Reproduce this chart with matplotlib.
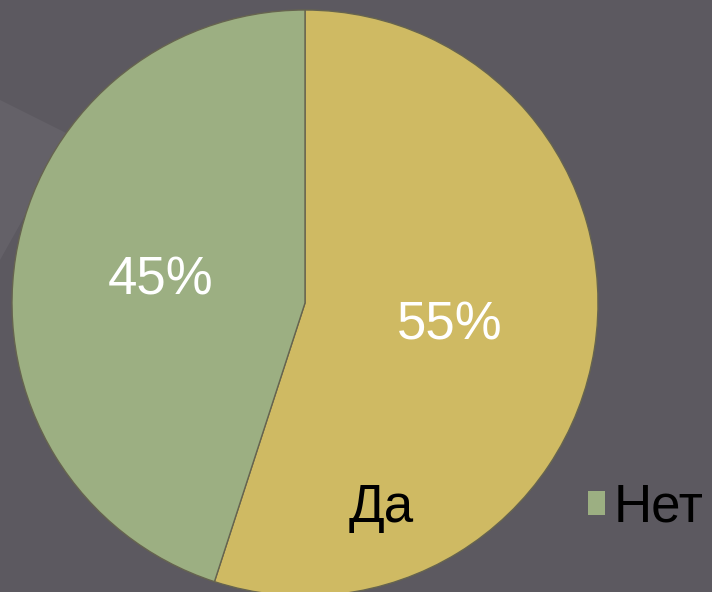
import matplotlib.pyplot as plt
from matplotlib.patches import Polygon

labels = ['Да', 'Нет']
values = [55, 45]
colors = ['#cfba63', '#9caf82']

plt.rcParams['font.family'] = ['Liberation Sans', 'DejaVu Sans']

fig = plt.figure(figsize=(7.12, 5.92), dpi=100)
fig.patch.set_facecolor('#5c5960')

# faint light streak in the upper left of the background
bg = fig.add_axes([0, 0, 1, 1], zorder=0)
bg.set_xlim(0, 712)
bg.set_ylim(592, 0)
bg.axis('off')
bg.add_patch(Polygon([[0, 100], [70, 135], [0, 260]], closed=True,
                     facecolor='#8a8690', alpha=0.18, edgecolor='none'))

# pie axes: centre (305, 303) px, radius 293 px
ax = fig.add_axes([12 / 712, -4 / 592, 586 / 712, 586 / 592], zorder=1)
wedges, texts, autotexts = ax.pie(
    values, colors=colors, startangle=90, counterclock=False,
    autopct='%1.0f%%', pctdistance=0.5, radius=1,
    wedgeprops=dict(edgecolor='#66644f', linewidth=1),
    textprops=dict(color='white', fontsize=38))
ax.set_xlim(-1, 1)
ax.set_ylim(-1, 1)
ax.set_aspect('equal')
ax.axis('off')

leg = fig.legend(wedges, labels, loc='center left', ncol=2,
                 bbox_to_anchor=(322 / 712, 1 - 508 / 592),
                 frameon=False, fontsize=38, borderpad=0, borderaxespad=0,
                 handlelength=0.32, handleheight=0.32, handletextpad=0.18,
                 columnspacing=3.3)
for t in leg.get_texts():
    t.set_color('black')
for h in leg.legend_handles:
    h.set_edgecolor('none')

fig.savefig('out.png', dpi=100, facecolor=fig.get_facecolor())
